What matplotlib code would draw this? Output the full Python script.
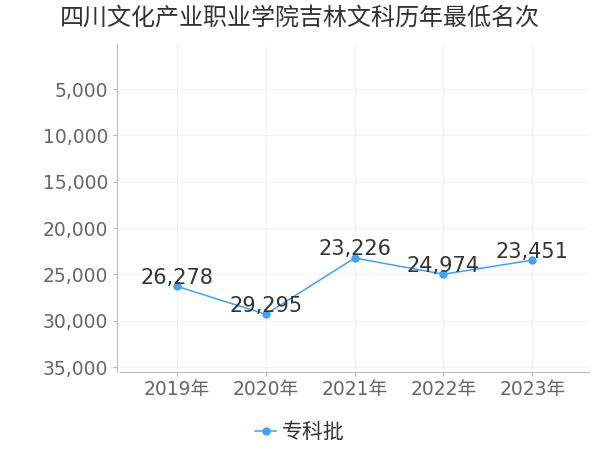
import matplotlib
matplotlib.use('Agg')
import matplotlib.pyplot as plt

plt.rcParams['font.family'] = ['DejaVu Sans', 'Noto Sans CJK SC']

years = ['2019年', '2020年', '2021年', '2022年', '2023年']
ranks = [26278, 29295, 23226, 24974, 23451]
series_name = '专科批'
title = '四川文化产业职业学院吉林文科历年最低名次'
yticks = [5000, 10000, 15000, 20000, 25000, 30000, 35000]

fig = plt.figure(figsize=(6, 4.5), dpi=100)
ax = fig.add_axes([0.2, 0.173, 0.782, 0.729])

x = list(range(len(years)))
line, = ax.plot(x, ranks, color='#3fa2f7', lw=1.1, marker='o', ms=5,
                label=series_name)
for xi, v in zip(x, ranks):
    ax.annotate(f'{v:,}', (xi, v), xytext=(0, -1), textcoords='offset points',
                ha='center', va='bottom', fontsize=15, color='#333333')

ax.set_xlim(-0.64, 4.64)
ax.set_ylim(35540, 140)
ax.set_xticks(x)
ax.set_xticklabels(years)
ax.set_yticks(yticks)
ax.set_yticklabels([f'{t:,}' for t in yticks])
ax.tick_params(axis='both', labelsize=13.5, colors='#666666', length=3,
               color='#bbbbbb')
ax.tick_params(axis='x', pad=3)
ax.grid(True, color='#f2f2f2', lw=0.8)
for s in ['top', 'right']:
    ax.spines[s].set_visible(False)
for s in ['left', 'bottom']:
    ax.spines[s].set_color('#bbbbbb')
ax.spines['left'].set_position(('outward', 2))

fig.text(0.5, 0.96, title, ha='center', va='center', fontsize=17.3,
         color='#333333')
fig.legend(handles=[line], loc='center', bbox_to_anchor=(0.5, 0.04),
           frameon=False, fontsize=15, handlelength=1.0, handletextpad=0.3,
           labelcolor='#333333')

fig.savefig('out.png', dpi=100)
